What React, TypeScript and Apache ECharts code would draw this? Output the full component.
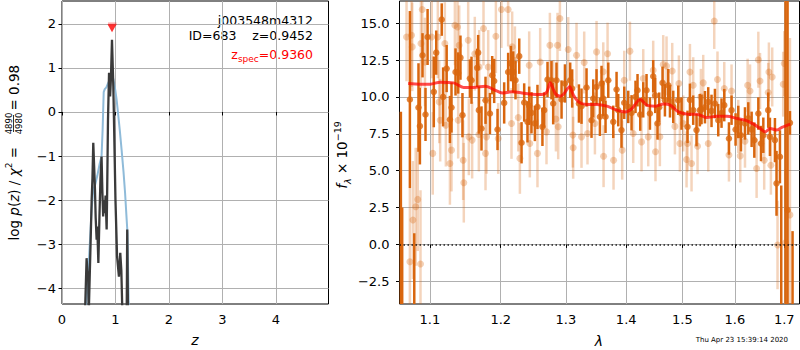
import React, { useEffect, useRef } from 'react';
import * as echarts from 'echarts';

// ---------- left panel: p(z) ----------
const zTicks = [0, 1, 2, 3, 4];
const logpTicks = [-4, -3, -2, -1, 0, 1, 2];
const blueZ = [0.44, 0.48, 0.52, 0.555, 0.585, 0.62, 0.66, 0.70, 0.74, 0.76, 0.78, 0.80, 0.83, 0.86, 0.90, 0.93, 0.96, 0.99, 1.02, 1.05, 1.08, 1.115, 1.15, 1.18, 1.21, 1.225, 1.25];
const blueLogp = [-4.6, -3.9, -3.0, -2.2, -1.77, -1.65, -1.45, -1.2, -1.0, -0.4, 0.45, 0.52, 0.56, 0.65, 0.75, 0.81, 0.75, 0.55, 0.3, -0.05, -0.4, -0.86, -1.35, -1.84, -2.45, -2.75, -4.6];
const blackZ = [0.43, 0.46, 0.475, 0.49, 0.50, 0.53, 0.555, 0.57, 0.585, 0.60, 0.617, 0.63, 0.648, 0.66, 0.68, 0.70, 0.72, 0.74, 0.755, 0.77, 0.785, 0.80, 0.815, 0.835, 0.845, 0.86, 0.88, 0.90, 0.915, 0.935, 0.96, 0.977, 1.00, 1.03, 1.065, 1.09, 1.11, 1.13, 1.21, 1.22, 1.235];
const blackLogp = [-4.6, -3.32, -3.6, -3.74, -4.6, -3.2, -1.99, -1.5, -0.70, -1.2, -1.77, -2.4, -2.90, -2.6, -3.43, -2.4, -1.5, -1.01, -1.8, -2.37, -2.0, -2.3, -1.9, -2.67, -1.8, -0.2, 0.89, 0.35, 0.75, 1.64, 0.58, -0.48, -1.99, -3.28, -3.74, -3.2, -3.6, -4.6, -4.6, -2.67, -4.6];
const zspecPoint = [0.936, 1.9];
const zspecBarZ = [0.86, 1.02];
const zspecBarLogp = [2.0, 2.0];

// ---------- right panel: spectrum ----------
const lamTicks = [1.1, 1.2, 1.3, 1.4, 1.5, 1.6, 1.7];
const fluxTicks = [-2.5, 0, 2.5, 5, 7.5, 10, 12.5, 15];

const darkLam = [1.0615, 1.0632, 1.0733, 1.0791, 1.0847, 1.0866, 1.0901, 1.0941, 1.0969, 1.1053, 1.1086, 1.1161, 1.1180, 1.1229, 1.1274, 1.1296, 1.1352, 1.1389, 1.1421, 1.1449, 1.1554, 1.1577, 1.1658, 1.1672, 1.1682, 1.1720, 1.1778, 1.1842, 1.1875, 1.1904, 1.1953,
  1.2051, 1.2110, 1.2151, 1.2186, 1.2220, 1.2276, 1.2311, 1.2351, 1.2401, 1.2427, 1.2462, 1.2514, 1.2554, 1.2631, 1.2658, 1.2710, 1.2772, 1.2799, 1.2851, 1.2931, 1.2985, 1.3069, 1.3101, 1.3210, 1.3252, 1.3334, 1.3416, 1.3444, 1.3499, 1.3555,
  1.3582, 1.3611, 1.3649, 1.3695, 1.3779, 1.3835, 1.3864, 1.3919, 1.3966, 1.4035, 1.4092, 1.4161, 1.4196, 1.4243, 1.4296, 1.4354, 1.4414, 1.4472, 1.4508, 1.4549, 1.4579, 1.4639, 1.4682, 1.4742, 1.4773, 1.4833, 1.4924, 1.4984, 1.5095, 1.5140, 1.5201, 1.5263, 1.5326,
  1.5357, 1.5422, 1.5484, 1.5547, 1.5612, 1.5676, 1.5739, 1.5792, 1.5883, 1.5934, 1.6013, 1.6066, 1.6119, 1.6199, 1.6265, 1.6332, 1.6386, 1.6467, 1.6521, 1.6568, 1.6668, 1.6703, 1.6806, 1.6839, 1.6910, 1.6937, 1.7027, 1.7069, 1.7119, 1.7174];
const darkFlux = [-6, -8, 9.82, -9, 9.28, 8.02, 12.82, 8.81, 14.06, 10.34, 13.0, 15.24, 10.0, 11.92, 8.47, 9.28, 11.69, 11.62, 12.66, 8.76, 11.24, 11.13, 11.97, 13.0, 9.1, 7.86, 9.77, 8.87, 11.47, 11.08, 7.79,
  9.59, 11.69, 12.26, 11.69, 11.13, 12.76, 6.89, 9.62, 8.31, 9.4, 8.92, 8.2, 9.32, 7.97, 9.1, 11.18, 11.13, 9.55, 11.13, 9.82, 10.91, 11.13, 10.57, 9.55, 9.37, 10.64, 8.42, 9.89, 10.68, 8.65,
  10.91, 9.89, 8.65, 11.13, 8.31, 10.5, 9.1, 7.75, 9.6, 9.32, 8.92, 10.0, 10.45, 8.8, 9.8, 10.45, 8.87, 11.4, 10.1, 8.2, 9.3, 10.95, 9.77, 10.79, 9.7, 9.32, 9.77, 8.87, 7.97, 9.8, 9.1, 7.75, 9.1,
  9.15, 9.3, 9.66, 9.05, 9.55, 8.42, 8.9, 9.44, 7.18, 9.1, 7.79, 8.3, 7.4, 8.2, 8.54, 7.8, 7.07, 8.87, 6.84, 7.4, 9.1, 7.29, 7.07, 4.14, 5.94, -5, -10, 2.33, 8.24, -6];
const darkErr = [15, 10.5, 6, 9.75, 3.0, 2.6, 1.5, 1.8, 1.9, 2.4, 1.5, 1.1, 2.0, 1.6, 1.6, 1.7, 1.6, 1.4, 1.5, 1.5, 1.3, 1.6, 1.3, 1.2, 1.6, 1.5, 1.6, 1.4, 1.3, 1.5, 1.4,
  1.4, 1.3, 1.2, 1.4, 1.3, 1.2, 1.4, 1.3, 1.4, 1.3, 1.4, 1.2, 1.5, 1.3, 1.2, 1.2, 1.3, 1.4, 1.2, 1.3, 1.3, 1.2, 1.3, 1.3, 1.2, 1.3, 1.2, 1.3, 1.2, 1.3,
  1.2, 1.2, 1.1, 1.2, 1.1, 1.2, 1.1, 1.2, 1.1, 1.1, 1.2, 1.1, 1.1, 1.1, 1.2, 1.1, 1.1, 1.1, 1.2, 1.1, 1.0, 1.1, 1.1, 1.1, 1.1, 1.1, 1.0, 1.1, 1.1, 1.1, 1.0, 1.1, 1.1,
  1.0, 1.1, 1.0, 1.1, 1.0, 1.1, 1.0, 1.1, 1.1, 1.0, 1.1, 1.1, 1.1, 1.1, 1.1, 1.2, 1.2, 1.1, 1.2, 1.2, 1.2, 1.3, 1.5, 2.2, 1.8, 9, 30, 16, 0.8, 6.9];

const lightLam = [1.0689, 1.0755, 1.0764, 1.0773, 1.0733, 1.0810, 1.0837, 1.0874, 1.0897, 1.0880, 1.0933, 1.1039, 1.1025, 1.1108, 1.1127, 1.1140, 1.1204, 1.1218, 1.1274, 1.1296, 1.1343, 1.1380, 1.1403, 1.1389, 1.1459, 1.1468, 1.1530, 1.1539, 1.1586, 1.1624, 1.1682, 1.1687, 1.1749, 1.1778, 1.1793, 1.1817, 1.1929, 1.1963,
  1.2011, 1.2110, 1.2170, 1.2211, 1.2160, 1.2261, 1.2286, 1.2437, 1.2554, 1.2427, 1.2596, 1.2694, 1.2747, 1.2867, 1.2878, 1.2905, 1.2842, 1.3037, 1.3112, 1.3171, 1.3252, 1.3296, 1.3350, 1.3499, 1.3472, 1.3117, 1.2799,
  1.3683, 1.3616, 1.3784, 1.3931, 1.3966, 1.4064, 1.4121, 1.4266, 1.4296, 1.4384, 1.4472, 1.4513, 1.4591, 1.4651, 1.4711, 1.4814, 1.4863, 1.4936, 1.4954, 1.5077, 1.5095, 1.5170, 1.5201, 1.5282, 1.5140, 1.3611, 1.5016,
  1.5599, 1.5661, 1.5389, 1.5345, 1.5484, 1.5792, 1.5883, 1.5934, 1.6066, 1.6199, 1.6252, 1.6300, 1.6467, 1.6501, 1.6682, 1.6750, 1.6668, 1.6999, 1.6978, 1.6586, 1.6723, 1.6432, 1.6860, 1.7027, 1.7119, 1.6105];
const lightFlux = [14.06, 14.18, 13.39, 1.65, -1.17, 2.55, 3.05, -1.33, 15.92, 13.62, 12.37, 6.17, 14.06, 14.06, 9.66, 8.42, 13.62, 8.08, 5.49, 6.39, 14.85, 14.74, 13.5, 8.42, 5.71, 4.18, 13.84, 7.29, 7.07, 12.93, 7.45, 12.03, 14.63, 6.17, 7.29, 12.03, 14.11, 7.18,
  15.92, 15.92, 13.39, 12.48, 8.2, 8.6, 5.83, 6.84, 6.17, 12.14, 12.37, 7.63, 13.5, 13.5, 7.97, 15.31, 8.5, 13.21, 7.41, 12.82, 7.29, 12.33, 7.52, 13.05, 8.2, 6.55, 10.3,
  12.93, 5.98, 5.71, 6.39, 11.13, 13.1, 7.52, 6.95, 11.24, 7.29, 11.81, 6.28, 7.3, 12.19, 12.1, 11.76, 8.0, 10.91, 6.84, 5.76, 6.84, 5.49, 10.79, 6.66, 11.69, 11.7, 8.2,
  15.15, 11.18, 10.95, 10.0, 6.84, 10.57, 6.06, 10.4, 8.0, 7.0, 10.79, 10.4, 12.52, 11.08, 11.69, 11.35, 10.3, 12.26, 10.86, 5.71, 5.37, 5.15, -0.04, 0.11, 2.0, 6.0];
const lightErr = [3, 3.5, 3, 4, 5, 4, 3.5, 5, 3, 3, 3, 2.8, 2.8, 2.8, 2.8, 2.8, 2.8, 2.8, 2.8, 2.8, 2.7, 2.7, 2.7, 2.6, 2.7, 2.7, 2.6, 2.6, 2.6, 2.5, 2.5, 2.5, 2.5, 2.5, 2.5, 2.5, 2.5, 2.4,
  2.6, 2.5, 2.4, 2.3, 2.4, 2.3, 2.4, 2.3, 2.3, 2.3, 2.3, 2.2, 2.2, 2.2, 2.2, 2.2, 2.2, 2.2, 2.2, 2.2, 2.1, 2.1, 2.1, 2.1, 2.1, 2.1, 2.2,
  2.1, 2.1, 2.0, 2.0, 2.0, 2.0, 2.0, 2.0, 2.0, 2.0, 2.0, 2.0, 2.0, 2.0, 2.0, 1.9, 1.9, 1.9, 1.9, 1.9, 1.9, 1.9, 1.9, 1.9, 1.9, 2.0, 1.9,
  1.9, 1.9, 1.9, 1.9, 1.9, 1.8, 1.8, 1.8, 1.8, 1.8, 1.8, 1.8, 1.9, 1.9, 2.0, 2.0, 2.0, 2.2, 2.2, 2.0, 2.0, 2.0, 3, 5, 12, 1.8];

const modelLam = [1.0711, 1.0870, 1.1004, 1.1140, 1.1323, 1.1464, 1.1605, 1.1776, 1.1919, 1.2021, 1.2165, 1.2316, 1.2467, 1.2622, 1.2700, 1.2752, 1.2831, 1.2910, 1.2962, 1.3059, 1.3122, 1.3204, 1.3340, 1.3505, 1.3672, 1.3840, 1.3983, 1.4098, 1.4243, 1.4361, 1.4509, 1.4657, 1.4778, 1.4929, 1.5114, 1.5270, 1.5459, 1.5650, 1.5844, 1.6039, 1.6205, 1.6370, 1.6505, 1.6607, 1.6709, 1.6847, 1.6951, 1.7125];
const modelFlux = [10.9, 10.86, 10.86, 11.0, 10.95, 10.64, 10.64, 10.72, 10.45, 10.27, 10.34, 10.27, 10.18, 10.16, 10.34, 10.95, 10.23, 10.05, 10.18, 10.68, 10.11, 9.66, 9.49, 9.49, 9.37, 9.10, 8.98, 9.21, 9.82, 9.44, 9.37, 9.51, 9.44, 8.98, 8.83, 8.83, 8.60, 8.69, 8.69, 8.54, 8.42, 8.15, 7.86, 7.63, 7.86, 7.75, 7.93, 8.15];

const FONT = 'DejaVu Sans';
const DARK = 'rgb(217,102,14)';
const LIGHT_BAR = 'rgba(217,102,14,0.28)';
const LIGHT_PT = 'rgba(217,102,14,0.38)';
const GRIDC = '#b0b0b0';

const fmtMinus = (s: string) => s.replace('-', '\u2212');

export default function App() {
  const ref = useRef<HTMLDivElement>(null);
  useEffect(() => {
    const chart = echarts.init(ref.current as HTMLDivElement, null, { renderer: 'svg' });
    const ln = Math.log;
    const lamMin = 1.0597;
    const lamMax = 1.7321;

    const lightData = lightLam.map((l, i) => [ln(l), lightFlux[i], lightErr[i]]);
    const darkData = darkLam.map((l, i) => [ln(l), darkFlux[i], darkErr[i]]);
    const modelData = modelLam.map((l, i) => [ln(l), modelFlux[i]]);
    const blueData = blueZ.map((z, i) => [z, blueLogp[i]]);
    const blackData = blackZ.map((z, i) => [z, blackLogp[i]]);
    const pinkData = zspecBarZ.map((z, i) => [z, zspecBarLogp[i]]);

    const errRender = (color: string) => (params: any, api: any) => {
      const x = api.value(0);
      const y = api.value(1);
      const e = api.value(2);
      const a = api.coord([x, y - e]);
      const b = api.coord([x, y + e]);
      return {
        type: 'line',
        shape: { x1: a[0], y1: a[1], x2: b[0], y2: b[1] },
        style: { stroke: color, lineWidth: 2.5 },
      };
    };

    const tickStyle = { show: true, length: 3.5, inside: false, lineStyle: { color: '#000', width: 1 } };
    const splitStyle = { show: true, lineStyle: { color: GRIDC, width: 1 } };
    const labelBase = { color: '#000', fontSize: 13, fontFamily: FONT };

    const txt = (text: string, x: number, y: number, extra: any = {}) => ({
      type: 'text',
      x,
      y,
      style: {
        text,
        fill: '#000',
        fontSize: 12.5,
        fontFamily: FONT,
        align: 'right',
        textAlign: 'right',
        verticalAlign: 'middle',
        textVerticalAlign: 'middle',
        ...extra,
      },
    });

    const option: any = {
      animation: false,
      backgroundColor: '#fff',
      grid: [
        { left: 62, top: 1, width: 266.5, height: 303, show: true, borderColor: '#000', borderWidth: 1, backgroundColor: 'transparent' },
        { left: 399.5, top: 1, width: 400, height: 303, show: true, borderColor: '#000', borderWidth: 1, backgroundColor: 'transparent' },
      ],
      xAxis: [
        {
          type: 'value', gridIndex: 0, min: 0, max: 4.985, interval: 1,
          axisLine: { show: false },
          axisTick: { ...tickStyle, customValues: zTicks },
          axisLabel: { ...labelBase, margin: 9, customValues: zTicks, formatter: (v: number) => String(v) },
          splitLine: splitStyle,
        },
        {
          type: 'value', gridIndex: 1, min: ln(lamMin), max: ln(lamMax),
          axisLine: { show: false },
          axisTick: { ...tickStyle, customValues: lamTicks.map((t) => ln(t)) },
          axisLabel: { ...labelBase, margin: 9, customValues: lamTicks.map((t) => ln(t)), formatter: (v: number) => Math.exp(v).toFixed(1) },
          splitLine: splitStyle,
        },
      ],
      yAxis: [
        {
          type: 'value', gridIndex: 0, min: -4.36, max: 2.52, splitNumber: 5,
          axisLine: { show: false },
          axisTick: { ...tickStyle, customValues: logpTicks },
          axisLabel: { ...labelBase, margin: 6, customValues: logpTicks, formatter: (v: number) => fmtMinus(String(v)) },
          splitLine: splitStyle,
        },
        {
          type: 'value', gridIndex: 1, min: -4.04, max: 16.5, minInterval: 2.5, maxInterval: 2.5, splitNumber: 8,
          axisLine: { show: false },
          axisTick: { ...tickStyle, customValues: fluxTicks },
          axisLabel: { ...labelBase, margin: 10, customValues: fluxTicks, formatter: (v: number) => fmtMinus(v.toFixed(1)) },
          splitLine: splitStyle,
        },
      ],
      series: [
        {
          type: 'line', xAxisIndex: 0, yAxisIndex: 0, data: blueData, showSymbol: false, clip: true,
          lineStyle: { color: '#8fbbd9', width: 2 }, z: 3,
        },
        {
          type: 'line', xAxisIndex: 0, yAxisIndex: 0, data: blackData, showSymbol: false, clip: true,
          lineStyle: { color: '#3a3a3a', width: 2.3 }, z: 4,
        },
        {
          type: 'line', xAxisIndex: 0, yAxisIndex: 0, data: pinkData, showSymbol: false, clip: true,
          lineStyle: { color: 'rgba(255,0,0,0.3)', width: 3 }, z: 5,
        },
        {
          type: 'scatter', xAxisIndex: 0, yAxisIndex: 0, data: [zspecPoint], symbol: 'triangle', symbolRotate: 180,
          symbolSize: [9, 8], itemStyle: { color: '#ff0000' }, z: 6,
        },
        {
          type: 'custom', xAxisIndex: 1, yAxisIndex: 1, data: lightData, clip: true, z: 2,
          encode: { x: 0, y: 1 }, renderItem: errRender(LIGHT_BAR),
        },
        {
          type: 'scatter', xAxisIndex: 1, yAxisIndex: 1, data: lightData.map((d) => [d[0], d[1]]), symbolSize: 7,
          itemStyle: { color: LIGHT_PT }, z: 2, clip: true,
        },
        {
          type: 'custom', xAxisIndex: 1, yAxisIndex: 1, data: darkData, clip: true, z: 3,
          encode: { x: 0, y: 1 }, renderItem: errRender(DARK),
        },
        {
          type: 'scatter', xAxisIndex: 1, yAxisIndex: 1, data: darkData.map((d) => [d[0], d[1]]), symbolSize: 6.5,
          itemStyle: { color: DARK }, z: 3, clip: true,
        },
        {
          type: 'line', xAxisIndex: 1, yAxisIndex: 1, data: modelData, showSymbol: false, clip: true, smooth: 0.3,
          lineStyle: { color: 'rgba(255,0,0,0.7)', width: 3 }, z: 5,
          markLine: {
            silent: true, symbol: 'none', label: { show: false },
            lineStyle: { color: '#000', width: 1.5, type: [1.5, 2.5], opacity: 0.85 },
            data: [{ yAxis: 0 }],
          },
        },
      ],
      graphic: [
        txt('j003548m4312', 313, 20),
        txt('ID=683    z=0.9452', 313, 35),
        {
          type: 'text', x: 313, y: 54,
          style: {
            text: '{a|z}{b|spec}{a|=0.9360}',
            align: 'right', textAlign: 'right', verticalAlign: 'middle', textVerticalAlign: 'middle',
            fill: '#ff0000',
            rich: {
              a: { fontSize: 12.5, fontFamily: FONT, fill: '#ff0000', color: '#ff0000', lineHeight: 18, verticalAlign: 'middle' },
              b: { fontSize: 9, fontFamily: FONT, fill: '#ff0000', color: '#ff0000', verticalAlign: 'bottom' },
            },
          },
        },
        // left y label (rotated)
        {
          type: 'group', x: 13.5, y: 156.5, rotation: Math.PI / 2,
          children: [
            {
              type: 'text', x: -84, y: 0,
              style: {
                text: '{n|log }{i|p}{n|(}{i|z}{n|) / }{i|χ}{s|2}{n| =}',
                align: 'left', textAlign: 'left', verticalAlign: 'middle', textVerticalAlign: 'middle',
                rich: {
                  n: { fontSize: 13.5, fontFamily: FONT, fill: '#000', color: '#000', lineHeight: 18 },
                  i: { fontSize: 13.5, fontFamily: FONT, fontStyle: 'italic', fill: '#000', color: '#000', lineHeight: 18 },
                  s: { fontSize: 9, fontFamily: FONT, fill: '#000', color: '#000', verticalAlign: 'top' },
                },
              },
            },
            { type: 'text', x: 33, y: -5, style: { text: '4890', fontSize: 8.5, fontFamily: FONT, fill: '#000', align: 'center', textAlign: 'center', verticalAlign: 'middle', textVerticalAlign: 'middle' } },
            { type: 'line', shape: { x1: 24.5, y1: 0, x2: 41.5, y2: 0 }, style: { stroke: '#000', lineWidth: 0.8 } },
            { type: 'text', x: 33, y: 5, style: { text: '4980', fontSize: 8.5, fontFamily: FONT, fill: '#000', align: 'center', textAlign: 'center', verticalAlign: 'middle', textVerticalAlign: 'middle' } },
            { type: 'text', x: 46, y: 0, style: { text: '= 0.98', fontSize: 13.5, fontFamily: FONT, fill: '#000', align: 'left', textAlign: 'left', verticalAlign: 'middle', textVerticalAlign: 'middle' } },
          ],
        },
        // right y label (rotated)
        {
          type: 'group', x: 342, y: 155, rotation: Math.PI / 2,
          children: [
            {
              type: 'text', x: 0, y: 0,
              style: {
                text: '{i|f}{b|λ}{n| × 10}{p|−19}',
                align: 'center', textAlign: 'center', verticalAlign: 'middle', textVerticalAlign: 'middle',
                rich: {
                  i: { fontSize: 13.5, fontFamily: FONT, fontStyle: 'italic', fill: '#000', color: '#000', lineHeight: 20 },
                  n: { fontSize: 13.5, fontFamily: FONT, fill: '#000', color: '#000', lineHeight: 20 },
                  b: { fontSize: 9.5, fontFamily: FONT, fontStyle: 'italic', fill: '#000', color: '#000', verticalAlign: 'bottom' },
                  p: { fontSize: 9.5, fontFamily: FONT, fill: '#000', color: '#000', verticalAlign: 'top' },
                },
              },
            },
          ],
        },
        txt('z', 195, 340, { align: 'center', textAlign: 'center', fontSize: 14, fontStyle: 'italic' }),
        txt('λ', 599, 341, { align: 'center', textAlign: 'center', fontSize: 14, fontStyle: 'italic' }),
        txt('Thu Apr 23 15:39:14 2020', 788, 339.5, { fontSize: 7 }),
      ],
    };

    chart.setOption(option);
    return () => {
      chart.dispose();
    };
  }, []);

  return <div ref={ref} style={{ position: 'absolute', left: 0, top: 0, width: 800, height: 350 }} />;
}
